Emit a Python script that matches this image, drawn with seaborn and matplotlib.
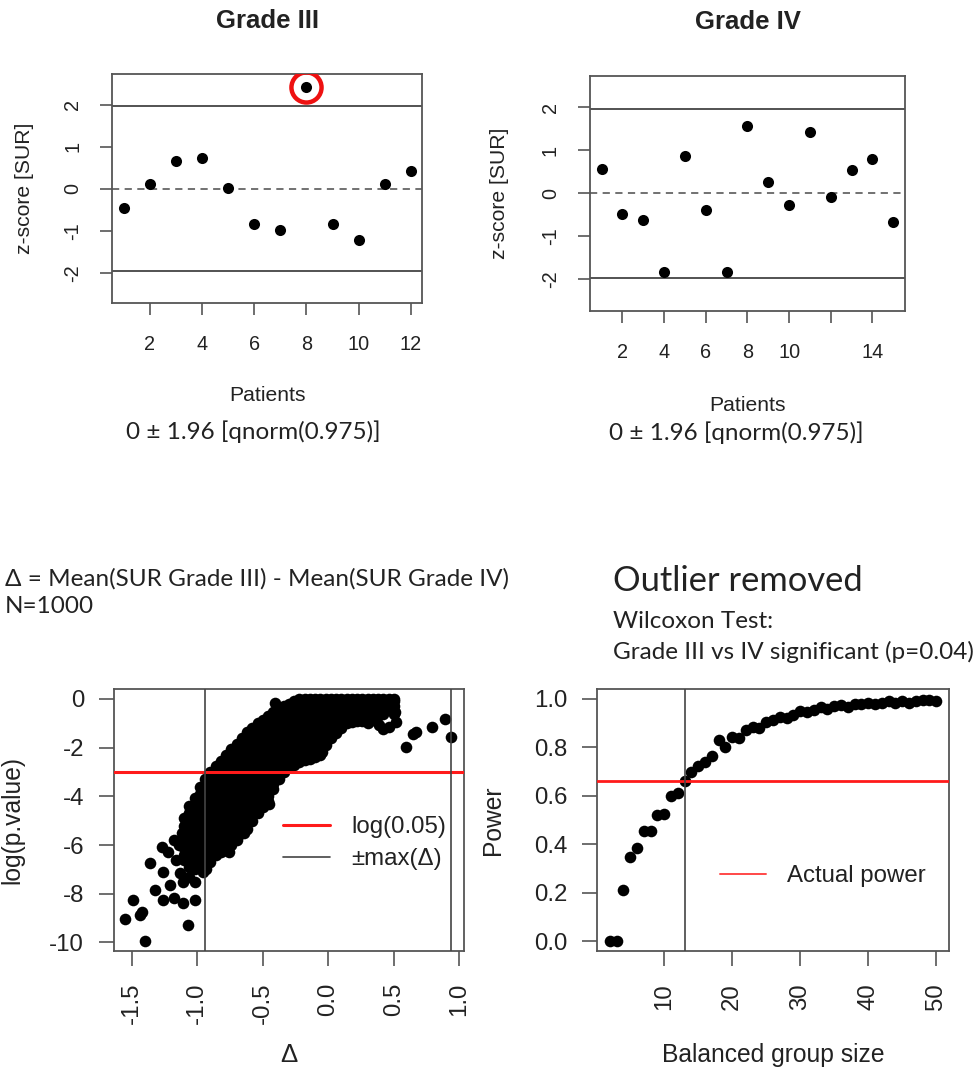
import matplotlib
matplotlib.use("Agg")
import numpy as np
import pandas as pd
import matplotlib.pyplot as plt
import seaborn as sns

sns.set_theme(style="white")
plt.rcParams['font.family'] = ['Liberation Sans', 'DejaVu Sans']
plt.rcParams['axes.unicode_minus'] = False

# ---------------- data ----------------
g3_patient = [1, 2, 3, 4, 5, 6, 7, 8, 9, 10, 11, 12]
g3_z = [-0.47, 0.12, 0.65, 0.73, 0.02, -0.85, -0.99, 2.41, -0.85, -1.23, 0.11, 0.43]
g3_outlier = 8

g4_patient = [1, 2, 3, 4, 5, 6, 7, 8, 9, 10, 11, 12, 13, 14, 15]
g4_z = [0.56, -0.47, -0.61, -1.82, 0.86, -0.39, -1.82, 1.56, 0.27, -0.26,
        1.44, -0.08, 0.54, 0.79, -0.66]

z_crit = 1.96

# simulated delta vs log(p): dense band, one column of y values per delta
band_delta = [-1.10, -1.06, -1.02, -0.98, -0.94, -0.90, -0.86, -0.82, -0.78, -0.74,
              -0.70, -0.66, -0.62, -0.58, -0.54, -0.50, -0.46, -0.42, -0.38, -0.34,
              -0.30, -0.26, -0.22, -0.18, -0.14, -0.10, -0.06, -0.02, 0.02, 0.06,
              0.10, 0.14, 0.18, 0.22, 0.26, 0.30, 0.34, 0.38, 0.42, 0.46, 0.50]
band_logp = [
    [-4.9, -5.2, -5.5, -5.8, -6.1, -6.4, -6.6],
    [-4.4, -4.7, -5.0, -5.3, -5.6, -5.9, -6.2, -6.5, -6.9],
    [-4.05, -4.35, -4.65, -4.95, -5.25, -5.55, -5.85, -6.15, -6.45, -6.75, -7.0],
    [-3.6, -3.9, -4.2, -4.5, -4.8, -5.1, -5.4, -5.7, -6.0, -6.3, -6.6, -6.95],
    [-3.3, -3.6, -3.9, -4.2, -4.5, -4.8, -5.1, -5.4, -5.7, -6.0, -6.3, -6.6, -6.95],
    [-3.0, -3.3, -3.6, -3.9, -4.2, -4.5, -4.8, -5.1, -5.4, -5.7, -6.0, -6.35, -6.7],
    [-2.75, -3.05, -3.35, -3.65, -3.95, -4.25, -4.55, -4.85, -5.15, -5.45, -5.75, -6.05, -6.4],
    [-2.55, -2.85, -3.15, -3.45, -3.75, -4.05, -4.35, -4.65, -4.95, -5.25, -5.55, -5.85, -6.1, -6.3],
    [-2.3, -2.6, -2.9, -3.2, -3.5, -3.8, -4.1, -4.4, -4.7, -5.0, -5.3, -5.6, -5.9, -6.2],
    [-2.05, -2.35, -2.65, -2.95, -3.25, -3.55, -3.85, -4.15, -4.45, -4.75, -5.05, -5.35, -5.65, -6.0],
    [-1.85, -2.15, -2.45, -2.75, -3.05, -3.35, -3.65, -3.95, -4.25, -4.55, -4.85, -5.15, -5.45, -5.8],
    [-1.6, -1.9, -2.2, -2.5, -2.8, -3.1, -3.4, -3.7, -4.0, -4.3, -4.6, -4.9, -5.2, -5.5],
    [-1.35, -1.65, -1.95, -2.25, -2.55, -2.85, -3.15, -3.45, -3.75, -4.05, -4.35, -4.65, -4.95, -5.35],
    [-1.2, -1.5, -1.8, -2.1, -2.4, -2.7, -3.0, -3.3, -3.6, -3.9, -4.2, -4.5, -4.75, -5.0],
    [-1.0, -1.3, -1.6, -1.9, -2.2, -2.5, -2.8, -3.1, -3.4, -3.7, -4.0, -4.3, -4.55, -4.7],
    [-0.85, -1.15, -1.45, -1.75, -2.05, -2.35, -2.65, -2.95, -3.25, -3.55, -3.85, -4.15, -4.45],
    [-0.7, -1.0, -1.3, -1.6, -1.9, -2.2, -2.5, -2.8, -3.1, -3.4, -3.7, -4.0, -4.2],
    [-0.55, -0.85, -1.15, -1.45, -1.75, -2.05, -2.35, -2.65, -2.95, -3.25, -3.5, -3.7],
    [-0.4, -0.7, -1.0, -1.3, -1.6, -1.9, -2.2, -2.5, -2.8, -3.05, -3.3],
    [-0.3, -0.6, -0.9, -1.2, -1.5, -1.8, -2.1, -2.4, -2.7, -3.0],
    [-0.2, -0.5, -0.8, -1.1, -1.4, -1.7, -2.0, -2.3, -2.55, -2.8],
    [-0.1, -0.4, -0.7, -1.0, -1.3, -1.6, -1.9, -2.2, -2.45, -2.7],
    [0.0, -0.3, -0.6, -0.9, -1.2, -1.5, -1.8, -2.1, -2.35, -2.6],
    [0.0, -0.15, -0.45, -0.75, -1.05, -1.35, -1.65, -1.95, -2.25, -2.5],
    [0.0, -0.3, -0.6, -0.9, -1.2, -1.5, -1.8, -2.1, -2.45],
    [0.0, -0.15, -0.45, -0.75, -1.05, -1.35, -1.65, -1.95, -2.2, -2.4],
    [0.0, -0.3, -0.6, -0.9, -1.2, -1.5, -1.8, -2.05, -2.3],
    [0.0, -0.15, -0.45, -0.75, -1.05, -1.35, -1.65, -1.9],
    [0.0, -0.3, -0.6, -0.9, -1.2, -1.4, -1.6],
    [0.0, -0.15, -0.45, -0.75, -1.05, -1.4],
    [0.0, -0.3, -0.6, -0.9, -1.2],
    [0.0, -0.15, -0.45, -0.75, -1.0],
    [0.0, -0.3, -0.6, -0.95],
    [0.0, -0.15, -0.45, -0.7, -0.9],
    [0.0, -0.3, -0.6, -0.9],
    [0.0, -0.15, -0.45, -0.75, -1.0],
    [0.0, -0.3, -0.6, -0.85],
    [0.0, -0.15, -0.45, -0.7],
    [0.0, -0.3, -0.6],
    [0.0, -0.15, -0.45],
    [0.0, -0.3, -0.6],
]
# scattered points outside the dense band
tail_delta = [-1.55, -1.49, -1.44, -1.42, -1.40, -1.36, -1.32, -1.27, -1.26, -1.26,
              -1.21, -1.18, -1.16, -1.13, -1.11, -1.11, -1.07, -1.02, -1.02, -1.18,
              -1.12, -1.22, -1.14, -1.06, -0.96, -0.41, -0.45, -0.64, -0.76, -0.93,
              0.39, 0.46, 0.42, 0.52, 0.50, 0.51, 0.59, 0.65, 0.67, 0.79,
              0.89, 0.94, -0.05, 0.03, 0.29]
tail_logp = [-9.05, -8.25, -8.87, -8.73, -9.93, -6.75, -7.84, -6.07, -7.09, -8.25,
             -7.64, -8.19, -6.61, -7.16, -8.39, -7.50, -9.28, -8.25, -7.50, -5.79,
             -5.52, -6.30, -6.00, -7.30, -7.10, -0.18, -4.30, -5.50, -6.30, -7.00,
             -1.07, -1.15, -1.22, -0.93, -0.10, -0.55, -1.98, -1.43, -1.36, -1.14,
             -0.83, -1.55, -2.16, -1.40, -0.90]
max_delta = 0.94
log_alpha = np.log(0.05)

# power curve
group_size = list(range(2, 51))
power = [0.0, 0.0, 0.21, 0.35, 0.385, 0.455, 0.455, 0.52, 0.525, 0.60,
         0.61, 0.66, 0.70, 0.725, 0.74, 0.765, 0.83, 0.80, 0.845, 0.84,
         0.87, 0.885, 0.88, 0.905, 0.915, 0.925, 0.92, 0.935, 0.95, 0.945,
         0.955, 0.965, 0.96, 0.97, 0.975, 0.965, 0.98, 0.98, 0.985, 0.98,
         0.985, 0.99, 0.985, 0.99, 0.985, 0.99, 0.995, 0.995, 0.99]
actual_n = 13
actual_power = 0.662

sim = pd.DataFrame({
    'delta': [d for d, col in zip(band_delta, band_logp) for _ in col] + tail_delta,
    'logp': [v for col in band_logp for v in col] + tail_logp,
})
g3 = pd.DataFrame({'patient': g3_patient, 'z': g3_z})
g4 = pd.DataFrame({'patient': g4_patient, 'z': g4_z})
pw = pd.DataFrame({'n': group_size, 'power': power})

# ---------------- figure ----------------
frame_col = '#555555'
text_col = '#222222'
fs_top, lab_top = 14.3, 15.2
fs_bot, lab_bot = 17.3, 17.7

fig = plt.figure(figsize=(9.75, 10.7), dpi=100)
ax1 = fig.add_axes([0.1152, 0.7165, 0.318, 0.2143])
ax2 = fig.add_axes([0.6051, 0.7096, 0.3231, 0.2193])
ax3 = fig.add_axes([0.1169, 0.1112, 0.3593, 0.2449])
ax4 = fig.add_axes([0.6120, 0.1112, 0.3616, 0.2446])


def r_style(ax, size, length, xpad, ypad):
    for s in ax.spines.values():
        s.set_color(frame_col)
        s.set_linewidth(1.3)
    ax.tick_params(direction='out', length=length, width=1.2, color=frame_col,
                   labelsize=size, labelcolor=text_col, bottom=True, left=True,
                   top=False, right=False)
    ax.tick_params(axis='x', pad=xpad)
    ax.tick_params(axis='y', pad=ypad)


# --- z-score panels ---
for ax, df, title, xmax in [(ax1, g3, 'Grade III', 12), (ax2, g4, 'Grade IV', 15)]:
    r_style(ax, fs_top, 8.6, 14.5, 13)
    ax.axhline(z_crit, color='#444444', lw=1.3)
    ax.axhline(-z_crit, color='#444444', lw=1.3)
    ax.axhline(0, color='#666666', lw=1.3, ls=(0, (4, 3)))
    sns.scatterplot(data=df, x='patient', y='z', ax=ax, color='black', s=64,
                    linewidth=0, zorder=3)
    pad = (xmax - 1) * 0.04
    ax.set_xlim(1 - pad, xmax + pad)
    ax.set_ylim(-2.73, 2.73)
    ax.set_yticks([-2, -1, 0, 1, 2])
    ax.set_yticklabels(['-2', '-1', '0', '1', '2'], rotation=90, va='center')
    ax.set_title(title, fontsize=18.5, fontweight='bold', y=1.23, va='center', pad=0,
                 color=text_col)
    ax.set_xlabel('Patients', fontsize=lab_top, color=text_col, va='center')
    ax.set_ylabel('z-score [SUR]', fontsize=lab_top, color=text_col, va='center')
    ax.xaxis.set_label_coords(0.5, -0.403)

ax1.set_xticks([2, 4, 6, 8, 10, 12])
ax1.set_xticklabels(['2', '4', '6', '8', '10', '12'])
ax2.set_xticks([2, 4, 6, 8, 10, 12, 14])
ax2.set_xticklabels(['2', '4', '6', '8', '10', '', '14'])
ax1.yaxis.set_label_coords(-0.282, 0.5)
ax2.yaxis.set_label_coords(-0.286, 0.5)

# outlier marker
ax1.scatter([g3_outlier], [g3_z[g3_outlier - 1]], s=470, facecolors='none',
            edgecolors='#ee1111', linewidths=3.2, zorder=4)

# --- delta vs log(p) ---
r_style(ax3, fs_bot, 11, 12, 10.5)
sns.scatterplot(data=sim, x='delta', y='logp', ax=ax3, color='black', s=70,
                linewidth=0, zorder=2)
ax3.axhline(log_alpha, color='#ff1a1a', lw=2.2, zorder=3, label='log(0.05)')
ax3.axvline(max_delta, color='#444444', lw=1.2, zorder=3, label='±max(Δ)')
ax3.axvline(-max_delta, color='#444444', lw=1.2, zorder=3)
ax3.set_xlim(-1.636, 1.038)
ax3.set_ylim(-10.35, 0.41)
ax3.set_xticks([-1.5, -1.0, -0.5, 0.0, 0.5, 1.0])
ax3.set_xticklabels(['-1.5', '-1.0', '-0.5', '0.0', '0.5', '1.0'], rotation=90)
ax3.set_yticks([0, -2, -4, -6, -8, -10])
ax3.set_yticklabels(['0', '-2', '-4', '-6', '-8', '-10'])
ax3.set_xlabel('Δ', fontsize=lab_bot + 1, color=text_col, va='center')
ax3.set_ylabel('log(p.value)', fontsize=lab_bot, color=text_col, va='center')
ax3.xaxis.set_label_coords(0.5, -0.397)
ax3.yaxis.set_label_coords(-0.291, 0.5)
ax3.legend(loc='upper left', bbox_to_anchor=(0.483, 0.515), frameon=False,
           fontsize=fs_bot, handlelength=1.95, handletextpad=0.9, labelspacing=0.42,
           borderpad=0, borderaxespad=0, labelcolor=text_col)

# --- power curve ---
r_style(ax4, fs_bot, 11, 12.5, 10)
sns.scatterplot(data=pw, x='n', y='power', ax=ax4, color='black', s=70,
                linewidth=0, zorder=2)
ax4.axhline(actual_power, color='#ff1a1a', lw=2.0, zorder=3, label='Actual power')
ax4.axvline(actual_n, color='#444444', lw=1.2, zorder=3)
ax4.set_xlim(0.08, 51.92)
ax4.set_ylim(-0.04, 1.04)
ax4.set_xticks([10, 20, 30, 40, 50])
ax4.set_xticklabels(['10', '20', '30', '40', '50'], rotation=90)
ax4.set_yticks([0, 0.2, 0.4, 0.6, 0.8, 1.0])
ax4.set_yticklabels(['0.0', '0.2', '0.4', '0.6', '0.8', '1.0'])
ax4.set_xlabel('Balanced group size', fontsize=lab_bot, color=text_col, va='center')
ax4.set_ylabel('Power', fontsize=lab_bot, color=text_col, va='center')
ax4.xaxis.set_label_coords(0.5, -0.397)
ax4.yaxis.set_label_coords(-0.294, 0.5)
leg = ax4.legend(loc='upper left', bbox_to_anchor=(0.35, 0.327), frameon=False,
                 fontsize=fs_bot, handlelength=1.9, handletextpad=0.9,
                 borderpad=0, borderaxespad=0, labelcolor=text_col)
for h in leg.get_lines():
    h.set_linewidth(1.4)
    h.set_alpha(0.8)

# --- annotation text (slide text) ---
note = ['Lato', 'DejaVu Sans']
fs_note = 17.5
fig.text(0.2595, 0.5963, '0 ± 1.96 [qnorm(0.975)]', family=note, fontsize=fs_note,
         ha='center', va='center', color=text_col)
fig.text(0.7547, 0.5953, '0 ± 1.96 [qnorm(0.975)]', family=note, fontsize=fs_note,
         ha='center', va='center', color=text_col)
fig.text(0.005, 0.459, 'Δ = Mean(SUR Grade III) - Mean(SUR Grade IV)', family=note,
         fontsize=fs_note, ha='left', va='center', color=text_col)
fig.text(0.005, 0.4336, 'N=1000', family=note, fontsize=fs_note, ha='left',
         va='center', color=text_col)
fig.text(0.6287, 0.457, 'Outlier removed', family=note, fontsize=24.8, ha='left',
         va='center', color=text_col)
fig.text(0.6287, 0.4187, 'Wilcoxon Test:', family=note, fontsize=fs_note, ha='left',
         va='center', color=text_col)
fig.text(0.6287, 0.3907, 'Grade III vs IV significant (p=0.04)', family=note,
         fontsize=fs_note, ha='left', va='center', color=text_col)

fig.savefig('out.png', dpi=100)
